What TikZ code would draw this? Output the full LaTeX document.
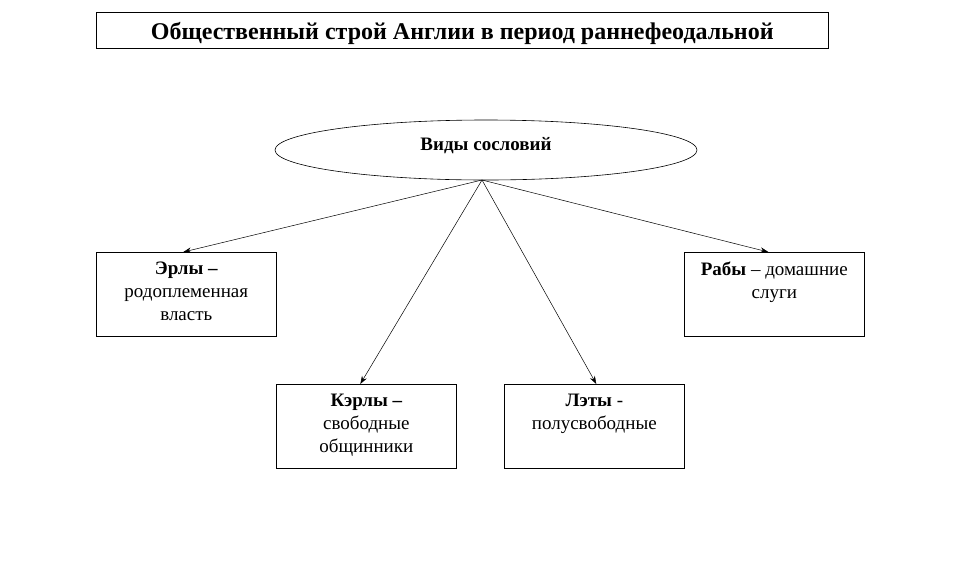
\documentclass[tikz,border=0pt]{standalone}
\usepackage{fontspec}
\setmainfont{Liberation Serif}
\usetikzlibrary{shapes.geometric,arrows.meta}
\tikzset{
  boxst/.style={draw, line width=0.6pt, inner sep=0pt, anchor=north west},
  arr/.style={-{Stealth[length=8pt,width=5.5pt]}, line width=0.5pt},
}
\newcommand{\boxtext}[1]{\parbox[t][84pt][t]{180pt}{\centering\vspace*{10pt}\fontsize{19}{23}\selectfont #1}}
\begin{document}
\begin{tikzpicture}[x=1pt,y=-1pt]
\useasboundingbox (0,0) rectangle (960,576);
\node[boxst, minimum width=732pt, minimum height=36pt, text height=24pt, text depth=5pt, font=\fontsize{24}{26}\selectfont\bfseries] (title) at (96,12) {Общественный строй Англии в период раннефеодальной};
\node[draw, ellipse, line width=0.6pt, minimum width=422pt, minimum height=60pt, inner sep=0pt, text height=13pt, text depth=13pt, font=\fontsize{19}{22}\selectfont\bfseries] (kinds) at (486,150) {Виды сословий};
\node[boxst] (earls) at (96,252) {\boxtext{\textbf{Эрлы –}\\ родоплеменная\\ власть}};
\node[boxst] (slaves) at (684,252) {\boxtext{\textbf{Рабы} – домашние\\ слуги}};
\node[boxst] (ceorls) at (276,384) {\boxtext{\textbf{Кэрлы –}\\ свободные\\ общинники}};
\node[boxst] (laets) at (504,384) {\boxtext{\textbf{Лэты} -\\ полусвободные}};
\coordinate (src) at (482,180);
\draw[arr] (src) -- ([xshift=-3pt]earls.north);
\draw[arr] (src) -- ([xshift=-6pt]slaves.north);
\draw[arr] (src) -- ([xshift=-6pt]ceorls.north);
\draw[arr] (src) -- ([xshift=2pt]laets.north);
\end{tikzpicture}
\end{document}
